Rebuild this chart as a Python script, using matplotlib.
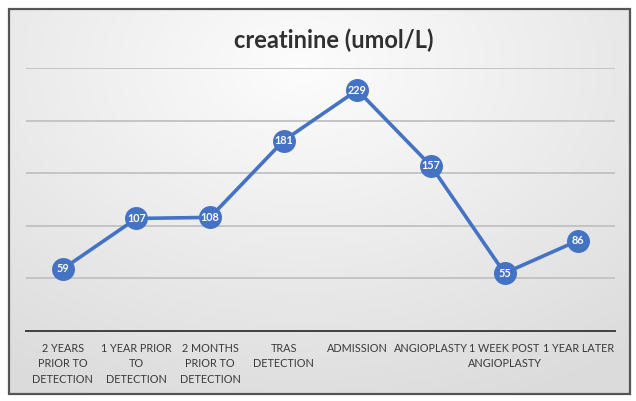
import matplotlib
matplotlib.use("Agg")
import matplotlib.pyplot as plt
import numpy as np
from matplotlib.patches import Rectangle

categories = ["2 YEARS\nPRIOR TO\nDETECTION", "1 YEAR PRIOR\nTO\nDETECTION",
              "2 MONTHS\nPRIOR TO\nDETECTION", "TRAS\nDETECTION", "ADMISSION",
              "ANGIOPLASTY", "1 WEEK POST\nANGIOPLASTY", "1 YEAR LATER"]
values = [59, 107, 108, 181, 229, 157, 55, 86]
title = "creatinine (umol/L)"

W, H = 636, 401
fig = plt.figure(figsize=(W / 100, H / 100), dpi=100)
fig.patch.set_facecolor("white")

# background gradient panel
bg = fig.add_axes([0, 0, 1, 1], zorder=0)
bg.set_xlim(0, W); bg.set_ylim(H, 0); bg.axis("off")
yy, xx = np.mgrid[0:H, 0:W]
d = np.sqrt(((xx - 300) / 500) ** 2 + ((yy - 60) / 350) ** 2)
g = np.clip(0.99 - 0.12 * d, 0.86, 0.99)
bg.imshow(np.dstack([g, g, g]), extent=(9, 630, 394, 9), zorder=0, aspect="auto")
bg.add_patch(Rectangle((9, 9), 621, 385, fill=False, edgecolor="#555555", linewidth=1.6, zorder=2))

ax = fig.add_axes([26 / W, 1 - 331 / H, (615 - 26) / W, (331 - 68) / H], zorder=1)
ax.patch.set_alpha(0)
x = np.arange(len(values))
ax.set_xlim(-0.5, len(values) - 0.5)
ax.set_ylim(0, 250)
ax.set_yticks([50, 100, 150, 200, 250])
ax.yaxis.grid(True, color="#c4c4c4", linewidth=1.4)
ax.set_axisbelow(True)
for s in ["top", "left", "right"]:
    ax.spines[s].set_visible(False)
ax.spines["bottom"].set_color("#404040")
ax.spines["bottom"].set_linewidth(1.4)
ax.tick_params(axis="y", left=False, labelleft=False)
ax.tick_params(axis="x", bottom=False, pad=5)
ax.set_xticks(x)
ax.set_xticklabels(categories, fontsize=7.8, color="#3a3a3a", family="Lato", linespacing=1.5)

ax.plot(x, values, color="#4472C4", linewidth=2.6, marker="o", markersize=15.5,
        markerfacecolor="#4472C4", markeredgecolor="#4472C4", zorder=3, clip_on=False)
for xi, v in zip(x, values):
    ax.text(xi, v, str(v), ha="center", va="center", color="white", fontsize=7.8,
            fontweight="bold", family="Lato", zorder=4)

fig.text(334 / W, 1 - 40 / H, title, ha="center", va="center", fontsize=17,
         fontweight="bold", color="#303030", family="Lato")

fig.savefig("out.png", dpi=100)
